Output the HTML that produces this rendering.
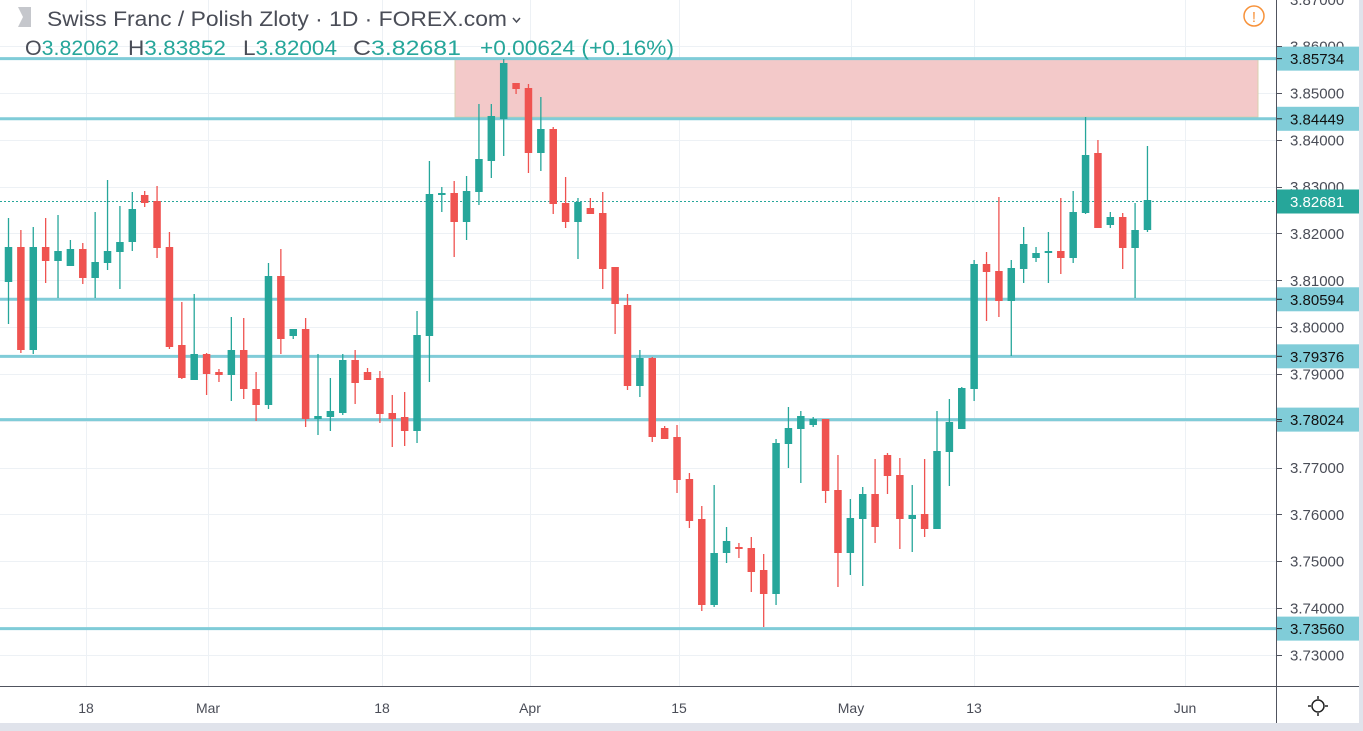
<!DOCTYPE html>
<html><head><meta charset="utf-8"><style>
html,body{margin:0;padding:0;background:#fff;}
svg{display:block;font-family:"Liberation Sans",sans-serif;}
</style></head><body>
<svg id="c" width="1363" height="731" xmlns="http://www.w3.org/2000/svg">
<rect x="0" y="0" width="1363" height="731" fill="#fff"/>
<g id="grid" stroke="#edf1f5" stroke-width="1"></g>
<rect x="455" y="59" width="803" height="58" fill="#f3c9c9" stroke="#d8d0b0" stroke-width="1"/>
<g id="hl" stroke="#80ccd8" stroke-width="3"></g>
<line x1="0" y1="201.5" x2="1276" y2="201.5" stroke="#26a69a" stroke-width="1" stroke-dasharray="2,2"/>
<g id="candles"></g>
<line x1="1276.5" y1="0" x2="1276.5" y2="731" stroke="#50535e" stroke-width="1"/>
<line x1="0" y1="686.5" x2="1363" y2="686.5" stroke="#50535e" stroke-width="1"/>
<rect x="1359" y="0" width="4" height="731" fill="#e0e3eb"/>
<rect x="0" y="723" width="1363" height="8" fill="#e0e3eb"/>
<g id="ptext" font-size="15" fill="#4a4d57"></g>
<g id="tick" stroke="#50535e"></g>
<g font-size="14" fill="#4a4d57" text-anchor="middle">
<text x="86" y="713">18</text><text x="208" y="713">Mar</text><text x="382" y="713">18</text>
<text x="530" y="713">Apr</text><text x="679" y="713">15</text><text x="851" y="713">May</text>
<text x="974" y="713">13</text><text x="1185" y="713">Jun</text>
</g>
<g transform="translate(1318,706)" stroke="#222" stroke-width="1.5" fill="none">
<circle r="6"/><line x1="0" y1="-10" x2="0" y2="-7"/><line x1="0" y1="10" x2="0" y2="7"/>
<line x1="-10" y1="0" x2="-7" y2="0"/><line x1="10" y1="0" x2="7" y2="0"/>
</g>
<polygon points="18,7 31,7 31,27 18,27 23,17" fill="#c5c7cc"/>
<text x="47" y="26" font-size="21" fill="#4a4d57" textLength="460" lengthAdjust="spacingAndGlyphs">Swiss Franc / Polish Zloty · 1D · FOREX.com</text>
<polyline points="513,18 516.5,22 520,18" fill="none" stroke="#4a4d57" stroke-width="1.5"/>
<g font-size="21" fill="#26a69a">
<text x="25" y="55" textLength="94" lengthAdjust="spacingAndGlyphs"><tspan fill="#4a4d57">O</tspan>3.82062</text>
<text x="128" y="55" textLength="98" lengthAdjust="spacingAndGlyphs"><tspan fill="#4a4d57">H</tspan>3.83852</text>
<text x="243" y="55" textLength="94" lengthAdjust="spacingAndGlyphs"><tspan fill="#4a4d57">L</tspan>3.82004</text>
<text x="353" y="55" textLength="108" lengthAdjust="spacingAndGlyphs"><tspan fill="#4a4d57">C</tspan>3.82681</text>
<text x="480" y="55" textLength="194" lengthAdjust="spacingAndGlyphs">+0.00624 (+0.16%)</text>
</g>
<circle cx="1254" cy="16" r="10" fill="none" stroke="#f7923a" stroke-width="1.5"/>
<text x="1254" y="22" font-size="15" fill="#f7923a" text-anchor="middle">!</text>
</svg>
<script>
var NS="http://www.w3.org/2000/svg";
function el(p,t,a){var e=document.createElementNS(NS,t);for(var k in a)e.setAttribute(k,a[k]);p.appendChild(e);return e;}
function Y(p){return 93+(3.85-p)*4682;}
var g=document.getElementById('grid');
for(var p=3.73;p<=3.8701;p+=0.01){var y=Math.round(Y(p))+0.5;el(g,'line',{x1:0,x2:1276,y1:y,y2:y});}
[86,208,382,530,679,851,974,1185].forEach(function(x){el(g,'line',{x1:x+0.5,x2:x+0.5,y1:0,y2:686});});
var pt=document.getElementById('ptext'),tk=document.getElementById('tick');
for(var i=0;i<15;i++){var p=3.73+i*0.01;var y=Y(p);el(tk,'line',{x1:1277,x2:1282,y1:Math.round(y)+0.5,y2:Math.round(y)+0.5});
 var t=el(pt,'text',{x:1290,y:y+5.5});t.textContent=p.toFixed(5);}
var hl=document.getElementById('hl');
[3.85734,3.84449,3.80594,3.79376,3.78024,3.73560].forEach(function(p){var y=Y(p);
 el(hl,'line',{x1:0,x2:1276,y1:y,y2:y});
 el(pt,'rect',{x:1277,y:y-12,width:82,height:24,fill:'#80ccd8'});
 el(pt,'line',{x1:1277,x2:1282,y1:y,y2:y,stroke:'#222'});
 var t=el(pt,'text',{x:1290,y:y+5.5,fill:'#111'});t.textContent=p.toFixed(5);});
(function(){var y=201.5;el(pt,'rect',{x:1277,y:y-12,width:82,height:24,fill:'#26a69a'});
 var t=el(pt,'text',{x:1290,y:y+5.5,fill:'#fff'});t.textContent='3.82681';})();
var C=[
['g',218,324,247,282],['r',230,353,247,350],['g',227,354,247,350],['r',218,283,247,261],['g',215,298,251,261],
['g',240,266,249,266],['r',243,284,249,278],['g',212,298,262,278],['g',180,270,251,263],['g',206,289,242,252],
['g',192,251,209,242],['r',191,207,195,203],['r',186,258,201,248],['r',232,349,247,347],['r',302,379,345,378],
['g',294,380,354,380],['r',353,395,354,374],['r',369,382,372,375],['g',317,401,350,375],['r',318,399,350,389],
['r',372,421,389,405],['g',263,409,276,405],['r',249,354,276,339],['g',329,339,329,336],['r',318,427,329,419],
['g',354,435,416,419],['g',378,431,411,417],['g',354,415,360,413],['r',350,404,360,383],['r',368,380,372,380],
['r',371,423,378,414],['r',395,447,413,419],['r',392,446,417,431],['g',311,443,335,431],['g',161,382,194,336],
['g',187,212,193,195],['r',181,257,193,222],['g',176,240,191,222],['g',104,205,159,192],['g',104,178,116,161],
['g',59,156,63,119],['r',83,94,83,89],['r',84,173,88,153],['g',97,171,129,153],['r',127,214,129,204],
['r',177,228,203,222],['g',198,259,202,222],['r',198,214,208,214],['r',192,289,213,269],['r',267,334,267,304],
['r',294,390,305,386],['g',350,397,358,386],['r',357,442,358,437],['r',426,439,428,439],['r',425,493,437,480],
['r',473,528,479,521],['r',506,611,519,605],['g',485,607,553,605],['g',527,563,541,553],['r',543,558,547,549],
['r',537,592,548,572],['r',554,627,570,594],['g',439,605,443,594],['g',407,468,428,444],['g',411,483,416,429],
['g',417,427,419,425],['r',419,503,419,491],['r',455,587,490,553],['g',499,575,518,553],['g',487,586,494,519],
['r',459,543,494,527],['r',453,494,455,476],['r',458,549,475,519],['g',485,552,515,519],['r',459,537,514,529],
['g',411,529,451,529],['g',399,486,422,452],['g',387,429,388,429],['g',260,401,264,389],['r',252,321,264,272],
['r',197,317,271,301],['g',260,356,268,301],['g',227,283,244,269],['g',247,262,253,258],['g',232,283,251,253],
['r',198,274,251,258],['g',191,263,212,258],['g',117,214,155,213],['r',140,228,153,228],['g',212,228,217,225],
['r',213,269,217,248],['g',203,298,230,248],['g',146,232,200,230]];
var cg=document.getElementById('candles');
C.forEach(function(c,i){var x=8.5+12.38*i;var col=c[0]=='g'?'#26a69a':'#ef5350';
 el(cg,'line',{x1:x,x2:x,y1:c[1],y2:c[2],stroke:col,'stroke-width':1.3});
 var h=Math.max(c[4]-c[3],2);el(cg,'rect',{x:x-3.75,y:c[3],width:7.5,height:h,fill:col});});
</script>
</body></html>
